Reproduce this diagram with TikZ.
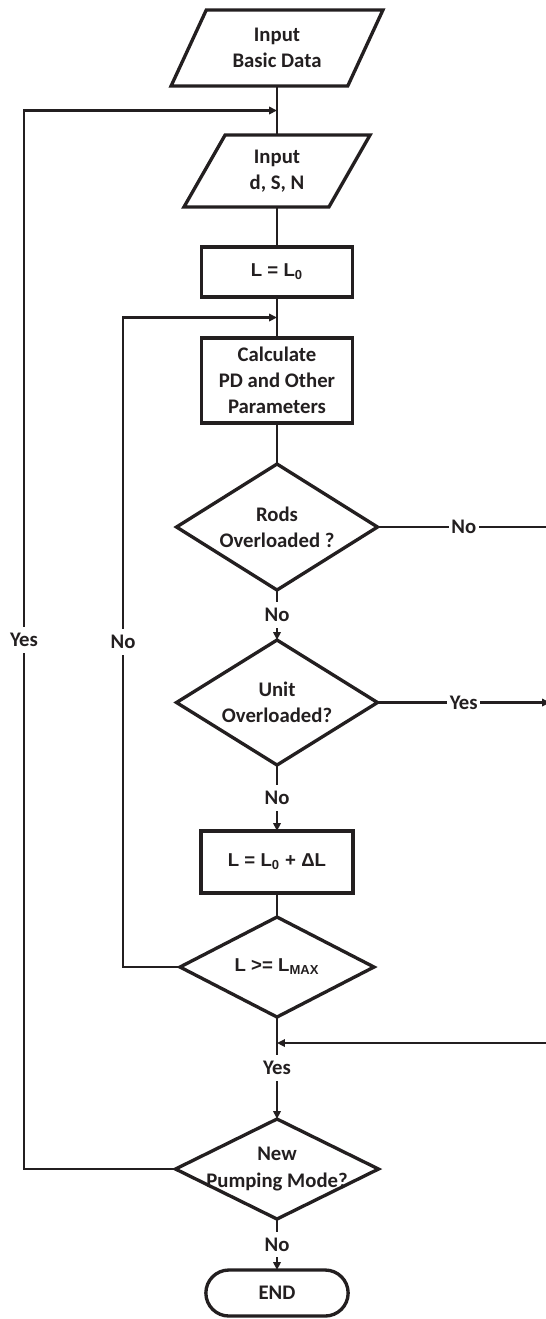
\documentclass[tikz,border=0pt]{standalone}
\usepackage{fontspec}
\setmainfont{Carlito}
\newfontfamily\formula{Liberation Sans}
\usetikzlibrary{positioning, calc, shapes.geometric, shapes.misc, arrows.meta}
\definecolor{ink}{RGB}{35,31,32}
\newcommand{\eqtext}[1]{{\formula\fontsize{10.6}{13}\selectfont #1}}

\begin{document}
\begin{tikzpicture}[
        font=\fontsize{11.8}{14.8}\selectfont\bfseries,
        every node/.style={text=ink, outer sep=0pt},
        io/.style={trapezium, trapezium left angle=64, trapezium right angle=116, trapezium stretches=true, draw=ink, line width=1.9pt, align=center},
        proc/.style={rectangle, draw=ink, line width=1.9pt, minimum width=3.02cm, align=center},
        decision/.style={rectangle, inner sep=0pt, align=center},
        term/.style={rounded rectangle, draw=ink, line width=1.9pt, minimum width=3.08cm, minimum height=0.92cm},
        border/.style={draw=ink, line width=1.9pt},
        line/.style={draw=ink, line width=1.2pt},
        arrow/.style={line, -{Triangle[length=4.5pt, width=4.2pt]}},
        lbl/.style={fill=white, inner xsep=1.5pt, inner ysep=3.5pt}
    ]
    \useasboundingbox (0,0) rectangle (10.92,-26.38);
    \clip (0,0) rectangle (10.92,-26.38);

    % main column
    \node[io, minimum width=4.26cm, minimum height=1.52cm] (data) at (5.54,-0.96) {Input\\Basic Data};
    \node[io, minimum width=3.74cm, minimum height=1.44cm, below=0.98cm of data] (dsn) {Input\\d, S, N};
    \node[proc, minimum height=1cm, below=0.8cm of dsn] (init) {\eqtext{L = L\textsubscript{0}}};
    \node[proc, minimum height=1.7cm, below=0.82cm of init] (calc) {Calculate\\PD and Other\\Parameters};
    \node[decision, minimum width=4.02cm, minimum height=2.52cm, below=0.82cm of calc] (rods) {Rods\\Overloaded ?};
    \node[decision, minimum width=4.02cm, minimum height=2.5cm, below=1cm of rods] (unit) {Unit\\Overloaded?};
    \node[proc, minimum width=3.04cm, minimum height=1.24cm, below=1.32cm of unit] (step) {\eqtext{L = L\textsubscript{0} + ΔL}};
    \node[decision, minimum width=3.88cm, minimum height=2cm, below=0.48cm of step] (lmax) {\eqtext{L >= L\textsubscript{MAX}}};
    \node[decision, minimum width=4.06cm, minimum height=2cm, below=2.04cm of lmax] (new) {New\\Pumping Mode?};
    \node[term, below=1.02cm of new] (end) {END};

    % diamonds
    \foreach \d in {rods, unit, lmax, new}
        \draw[border] (\d.north) -- (\d.east) -- (\d.south) -- (\d.west) -- cycle;

    % bus lines and joints
    \coordinate (ybus) at (0.48,0);
    \coordinate (nbus) at (2.46,0);
    \coordinate (rbus) at (11.0,0);
    \coordinate (in1) at ($(data.south)!0.5!(dsn.north)$);
    \coordinate (in2) at ($(init.south)!0.5!(calc.north)$);
    \coordinate (in3) at ($(lmax.south)!0.255!(new.north)$);

    % connectors
    \foreach \a/\b in {data/dsn, dsn/init, init/calc, calc/rods, step/lmax}
        \draw[line] (\a.south) -- (\b.north);
    \foreach \a/\b/\t in {rods/unit/No, unit/step/No, lmax/new/Yes, new/end/No}
        \draw[arrow] (\a.south) -- node[lbl] {\t} (\b.north);

    \draw[arrow] (rods.east) -- node[lbl] {No} (rods.east -| rbus) |- (in3);
    \draw[arrow] (unit.east) -- node[lbl] {Yes} (unit.east -| rbus);
    \draw[arrow] (lmax.west) -- (lmax.west -| nbus) |- node[lbl, pos=0.25] {No} (in2);
    \draw[arrow] (new.west) -- (new.west -| ybus) |- node[lbl, pos=0.25] {Yes} (in1);
\end{tikzpicture}
\end{document}
